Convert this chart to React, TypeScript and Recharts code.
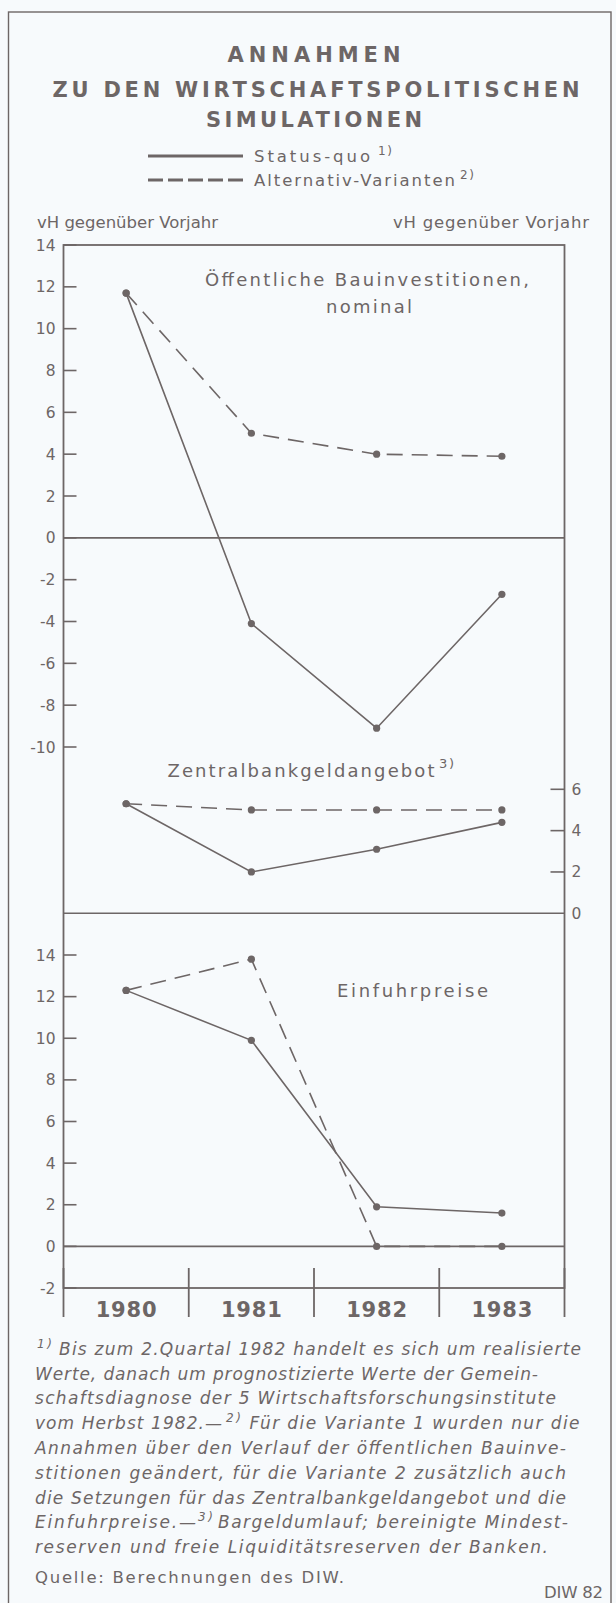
import { LineChart, Line, XAxis, YAxis, ReferenceLine } from 'recharts';

const YEARS = [1980, 1981, 1982, 1983];

// Öffentliche Bauinvestitionen, nominal
const BAU_STATUS = [11.7, -4.1, -9.1, -2.7];
const BAU_ALT = [11.7, 5.0, 4.0, 3.9];
// Zentralbankgeldangebot
const ZBG_STATUS = [5.3, 2.0, 3.1, 4.4];
const ZBG_ALT = [5.3, 5.0, 5.0, 5.0];
// Einfuhrpreise
const EIN_STATUS = [12.3, 9.9, 1.9, 1.6];
const EIN_ALT = [12.3, 13.8, 0, 0];

const TOP_TICKS = [-10, -8, -6, -4, -2, 0, 2, 4, 6, 8, 10, 12, 14];
const MID_TICKS = [0, 2, 4, 6];
const BOT_TICKS = [-2, 0, 2, 4, 6, 8, 10, 12, 14];

const INK = '#6d6666';
const BG = '#f7fafc';
const FONT = '"DejaVu Sans", sans-serif';

const W = 616;
const H = 1603;
const PL = 63.5;
const PR = 564.5;
const BAND = (PR - PL) / YEARS.length;
const YW = 40;

function rows(status: number[], alt: number[]) {
  return YEARS.map((year, i) => ({ year, status: status[i], alt: alt[i] }));
}

function LeftTick({ x, y, payload }: any) {
  return (
    <g>
      <line x1={x + 8} x2={x + 21} y1={y} y2={y} stroke={INK} strokeWidth={1.6} />
      <text x={x} y={y} dy={5.5} textAnchor="end" fontSize={15.5} fontFamily={FONT} fill={INK}>
        {payload.value}
      </text>
    </g>
  );
}

function RightTick({ x, y, payload }: any) {
  return (
    <g>
      {payload.value !== 0 && (
        <line x1={x - 21} x2={x - 7} y1={y} y2={y} stroke={INK} strokeWidth={1.6} />
      )}
      <text x={x} y={y} dy={5.5} textAnchor="start" fontSize={15.5} fontFamily={FONT} fill={INK}>
        {payload.value}
      </text>
    </g>
  );
}

function YearTick({ x, y, payload, index }: any) {
  const left = x - BAND / 2;
  const right = x + BAND / 2;
  return (
    <g>
      <line x1={left} x2={left} y1={y - 20} y2={y + 29} stroke={INK} strokeWidth={1.8} />
      {index === YEARS.length - 1 && (
        <line x1={right} x2={right} y1={y - 20} y2={y + 29} stroke={INK} strokeWidth={1.8} />
      )}
      <text x={x} y={y + 29} textAnchor="middle" fontSize={21} fontWeight="bold" fontFamily={FONT}
        fill={INK} textLength={61} lengthAdjust="spacing">
        {payload.value}
      </text>
    </g>
  );
}

function Txt({ x, y, w, size = 16.5, bold, italic, anchor = 'start', children }: any) {
  return (
    <text x={x} y={y} textLength={w} lengthAdjust="spacing" fontSize={size} fontFamily={FONT}
      fontWeight={bold ? 'bold' : 'normal'} fontStyle={italic ? 'italic' : 'normal'}
      textAnchor={anchor} fill={INK}>
      {children}
    </text>
  );
}

const dot = { r: 3.6, fill: INK, stroke: 'none' };

function Series() {
  return [
    <Line key="alt" type="linear" dataKey="alt" stroke={INK} strokeWidth={1.6} strokeDasharray="16 9"
      dot={dot} activeDot={false} isAnimationActive={false} />,
    <Line key="status" type="linear" dataKey="status" stroke={INK} strokeWidth={1.6}
      dot={dot} activeDot={false} isAnimationActive={false} />,
  ];
}

export default function App() {
  return (
    <div style={{ position: 'absolute', left: 0, top: 0, width: W, height: H, background: BG, overflow: 'hidden' }}>
      <svg width={W} height={H} style={{ position: 'absolute', left: 0, top: 0 }}>
        <rect x={8.5} y={12} width={602.5} height={1600} fill="none" stroke={INK} strokeWidth={1.4} />
        <rect x={PL} y={245} width={PR - PL} height={1288 - 245} fill="none" stroke={INK} strokeWidth={1.8} />

        <Txt x={314} y={62} w={173} size={21} bold anchor="middle">ANNAHMEN</Txt>
        <Txt x={316} y={97} w={527} size={21} bold anchor="middle">ZU DEN WIRTSCHAFTSPOLITISCHEN</Txt>
        <Txt x={314} y={127} w={216} size={21} bold anchor="middle">SIMULATIONEN</Txt>

        <line x1={148} x2={243} y1={156} y2={156} stroke={INK} strokeWidth={3} />
        <Txt x={254} y={162} w={116}>Status-quo</Txt>
        <Txt x={378} y={155} w={14} size={12}>1)</Txt>
        <line x1={148} x2={243} y1={180} y2={180} stroke={INK} strokeWidth={3} strokeDasharray="15 5" />
        <Txt x={254} y={186} w={201}>Alternativ-Varianten</Txt>
        <Txt x={460} y={179} w={14} size={12}>2)</Txt>

        <Txt x={37} y={228} w={181}>vH gegenüber Vorjahr</Txt>
        <Txt x={393} y={228} w={196}>vH gegenüber Vorjahr</Txt>

        <Txt x={205} y={286} w={324} size={18}>Öffentliche Bauinvestitionen,</Txt>
        <Txt x={369} y={313} w={86} size={18} anchor="middle">nominal</Txt>
        <Txt x={167.5} y={777} w={267} size={18}>Zentralbankgeldangebot</Txt>
        <Txt x={439} y={768} w={15} size={13}>3)</Txt>
        <Txt x={337} y={997} w={151} size={18}>Einfuhrpreise</Txt>

        <Txt x={37} y={1348} w={15} size={12} italic>1)</Txt>
        <Txt x={59} y={1355} w={522} size={17} italic>Bis zum 2.Quartal 1982 handelt es sich um realisierte</Txt>
        <Txt x={35} y={1380} w={503} size={17} italic>Werte, danach um prognostizierte Werte der Gemein-</Txt>
        <Txt x={35} y={1404} w={521} size={17} italic>schaftsdiagnose der 5 Wirtschaftsforschungsinstitute</Txt>
        <Txt x={35} y={1429} w={187} size={17} italic>vom Herbst 1982.—</Txt>
        <Txt x={226} y={1422} w={15} size={12} italic>2)</Txt>
        <Txt x={249.5} y={1429} w={330} size={17} italic>Für die Variante 1 wurden nur die</Txt>
        <Txt x={35} y={1454} w={531} size={17} italic>Annahmen über den Verlauf der öffentlichen Bauinve-</Txt>
        <Txt x={35} y={1479} w={531} size={17} italic>stitionen geändert, für die Variante 2 zusätzlich auch</Txt>
        <Txt x={35} y={1504} w={531} size={17} italic>die Setzungen für das Zentralbankgeldangebot und die</Txt>
        <Txt x={35} y={1528} w={161} size={17} italic>Einfuhrpreise.—</Txt>
        <Txt x={198} y={1521} w={15} size={12} italic>3)</Txt>
        <Txt x={218} y={1528} w={350} size={17} italic>Bargeldumlauf; bereinigte Mindest-</Txt>
        <Txt x={35} y={1553} w={513} size={17} italic>reserven und freie Liquiditätsreserven der Banken.</Txt>
        <Txt x={35} y={1583} w={309}>Quelle: Berechnungen des DIW.</Txt>
        <Txt x={603} y={1598} w={59} anchor="end">DIW 82</Txt>
      </svg>

      <div style={{ position: 'absolute', left: 0, top: 0 }}>
        <LineChart width={W} height={800} data={rows(BAU_STATUS, BAU_ALT)}
          margin={{ top: 245, bottom: 800 - 747, left: PL - YW, right: W - PR }}>
          <XAxis dataKey="year" type="number" domain={[1979.5, 1983.5]} hide />
          <YAxis type="number" domain={[-10, 14]} ticks={TOP_TICKS} interval={0} width={YW}
            axisLine={false} tickLine={false} tickSize={0} tickMargin={8} tick={<LeftTick />} />
          <ReferenceLine y={0} stroke={INK} strokeWidth={1.6} />
          {Series()}
        </LineChart>
      </div>

      <div style={{ position: 'absolute', left: 0, top: 0 }}>
        <LineChart width={W} height={1000} data={rows(ZBG_STATUS, ZBG_ALT)}
          margin={{ top: 789.3, bottom: 1000 - 913.3, left: PL, right: W - PR - YW }}>
          <XAxis dataKey="year" type="number" domain={[1979.5, 1983.5]} hide />
          <YAxis orientation="right" type="number" domain={[0, 6]} ticks={MID_TICKS} interval={0} width={YW}
            axisLine={false} tickLine={false} tickSize={0} tickMargin={7} tick={<RightTick />} />
          <ReferenceLine y={0} stroke={INK} strokeWidth={1.6} />
          {Series()}
        </LineChart>
      </div>

      <div style={{ position: 'absolute', left: 0, top: 0 }}>
        <LineChart width={W} height={H} data={rows(EIN_STATUS, EIN_ALT)}
          margin={{ top: 955, bottom: H - 1288 - 40, left: PL - YW, right: W - PR }}>
          <XAxis dataKey="year" type="number" domain={[1979.5, 1983.5]} ticks={YEARS} interval={0} height={40}
            axisLine={false} tickLine={false} tickSize={0} tickMargin={0} tick={<YearTick />} />
          <YAxis type="number" domain={[-2, 14]} ticks={BOT_TICKS} interval={0} width={YW}
            axisLine={false} tickLine={false} tickSize={0} tickMargin={8} tick={<LeftTick />} />
          <ReferenceLine y={0} stroke={INK} strokeWidth={1.6} />
          {Series()}
        </LineChart>
      </div>
    </div>
  );
}
